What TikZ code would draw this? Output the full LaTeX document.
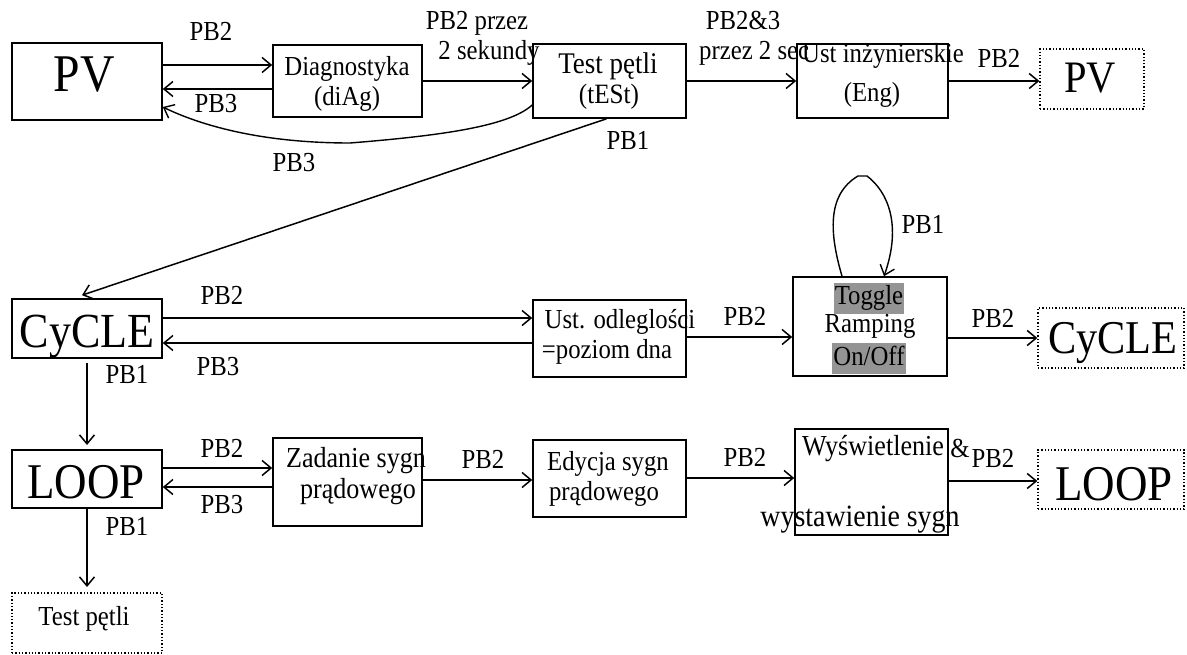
\documentclass[tikz,border=0pt]{standalone}
\usepackage{fontspec}
\setmainfont[FakeStretch=0.9]{Liberation Serif}
\usetikzlibrary{arrows.meta}
\begin{document}
\begin{tikzpicture}[x=1pt,y=-1pt,
  box/.style={draw, line width=1.6pt, inner sep=0pt},
  dotbox/.style={draw, dotted, line width=1.3pt, inner sep=0pt},
  arr/.style={line width=1.5pt, -{Straight Barb[length=9pt,width=15pt]}},
  curve/.style={line width=1.4pt},
  fs/.style={font=\fontsize{#1}{#1}\selectfont, inner sep=0pt, anchor=base},
  t/.style={fs=27.5},
  hl/.style={fs=27.5, fill=black!42, text height=21pt, text depth=8pt, inner xsep=1pt, inner ysep=1pt}
]
\useasboundingbox (0,0) rectangle (1187,655);

% ---- top row: boxes ----
\node[box, minimum width=150pt, minimum height=77pt] (pv)   at (87,81.5)   {};
\node[box, minimum width=149pt, minimum height=72pt] (diag) at (347.5,81)  {};
\node[box, minimum width=153pt, minimum height=74pt] (test) at (609.5,81)  {};
\node[box, minimum width=151pt, minimum height=74pt] (eng)  at (872.5,81)  {};
\node[dotbox, minimum width=104pt, minimum height=60pt] (pvd) at (1092,79) {};

\node[fs=53] (pvT)    at (84,92)   {PV};
\node[t]     (diagA)  at (347,76)  {Diagnostyka};
\node[t]     (diagB)  at (347,106) {(diAg)};
\node[fs=30] (testA)  at (608,73.5) {Test pętli};
\node[fs=28] (testB)  at (609,103.5) {(tESt)};
\node[t]     (engA)   at (883,63)  {Ust inżynierskie};
\node[t]     (engB)   at (872,102) {(Eng)};
\node[fs=45] (pvdT)   at (1090,93) {PV};

% ---- top row: connectors ----
\draw[arr] (pv.east |- 0,65) -- (diag.west |- 0,65);
\draw[arr] (diag.west |- 0,89) -- (pv.east |- 0,89);
\draw[arr] (diag.east |- 0,81) -- (test.west |- 0,81);
\draw[arr] (test.east |- 0,81) -- (eng.west |- 0,81);
\draw[arr] (eng.east |- 0,81) -- (pvd.west |- 0,81);
\draw[curve, -{Straight Barb[length=9pt,width=15pt]}]
  ([yshift=-24pt]test.west) .. controls (510,125) and (450,135) .. (350,143)
  .. controls (260,143) and (200,125) .. ([yshift=-25.5pt]pv.east);

\node[t] (l1) at (211,41)  {PB2};
\node[t] (l2) at (216,113) {PB3};
\node[t] (l3) at (477,30)  {PB2 przez};
\node[t] (l4) at (489,60)  {2 sekundy};
\node[t] (l5) at (743,30)  {PB2\&3};
\node[t, anchor=base west] (l6) at (699,60) {przez 2 sec};
\node[t] (l7) at (999,68)  {PB2};
\node[t] (l8) at (294,172) {PB3};
\node[t] (l9) at (628,150) {PB1};

% ---- middle row: boxes ----
\node[box, minimum width=150pt, minimum height=59pt] (cyc) at (87,328.5)  {};
\node[box, minimum width=153pt, minimum height=77pt] (odl) at (609.5,338.5) {};
\node[box, minimum width=154pt, minimum height=99pt] (tog) at (870,326.5)  {};
\node[dotbox, minimum width=146pt, minimum height=60pt] (cycd) at (1111,338) {};

\node[fs=49] (cycT)  at (87,347)   {CyCLE};
\node[t]     (odlA)  at (620,328)  {Ust. odleglości};
\node[t]     (odlB)  at (607,358)  {=poziom dna};
\node[hl]    (togA)  at (869,305)  {Toggle};
\node[t]     (togB)  at (870,333)  {Ramping};
\node[hl]    (togC)  at (869,365)  {On/Off};
\node[fs=47] (cycdT) at (1113,353) {CyCLE};

% ---- middle row: connectors ----
\draw[arr] ([xshift=-3pt]test.south) -- ([shift={(-5,-3)}]cyc.north);
\draw[arr] (cyc.east |- 0,318) -- (odl.west |- 0,318);
\draw[arr] (odl.west |- 0,343) -- (cyc.east |- 0,343);
\draw[arr] (odl.east |- 0,337) -- (tog.west |- 0,337);
\draw[arr] (tog.east |- 0,338) -- (cycd.west |- 0,338);
\draw[curve, -{Straight Barb[length=9pt,width=15pt]}]
  (tog.north -| 842,0) .. controls (830,235) and (826,195) .. (858,176)
  -- (867,176) .. controls (888,192) and (902,225) .. (tog.north -| 884,0);
\draw[arr] (cyc.south |- 0,363) -- (cyc.south |- 0,445);

\node[t] (m1) at (222,305) {PB2};
\node[t] (m2) at (218,375) {PB3};
\node[t] (m3) at (745,326) {PB2};
\node[t] (m4) at (993,327) {PB2};
\node[t] (m5) at (923,234) {PB1};
\node[t] (m6) at (127,383) {PB1};

% ---- bottom row: boxes ----
\node[box, minimum width=150pt, minimum height=58pt]  (loop) at (87,479)    {};
\node[box, minimum width=149pt, minimum height=88pt]  (zad)  at (347.5,482) {};
\node[box, minimum width=153pt, minimum height=77pt]  (edy)  at (609.5,478.5) {};
\node[box, minimum width=153pt, minimum height=106pt] (wys)  at (871.5,482) {};
\node[dotbox, minimum width=146pt, minimum height=59pt] (loopd) at (1111,479.5) {};
\node[dotbox, minimum width=150pt, minimum height=60pt] (testd) at (87,623) {};

\node[fs=50] (loopT)  at (86,498)   {LOOP};
\node[fs=29] (zadA)   at (356,467)  {Zadanie sygn};
\node[fs=29] (zadB)   at (358,498)  {prądowego};
\node[t]     (edyA)   at (608,470)  {Edycja sygn};
\node[t]     (edyB)   at (604,500)  {prądowego};
\node[fs=29] (wysA)   at (873,455)  {Wyświetlenie};
\node[fs=31] (wysB)   at (860,526)  {wystawienie sygn};
\node[fs=50] (loopdT) at (1114,500) {LOOP};
\node[t]     (testdT) at (84,625)   {Test pętli};

% ---- bottom row: connectors ----
\draw[arr] (loop.east |- 0,468) -- (zad.west |- 0,468);
\draw[arr] (zad.west |- 0,487) -- (loop.east |- 0,487);
\draw[arr] (zad.east |- 0,480) -- (edy.west |- 0,480);
\draw[arr] (edy.east |- 0,478) -- (wys.west |- 0,478);
\draw[arr] (wys.east |- 0,481) -- (loopd.west |- 0,481);
\draw[arr] (loop.south) -- (loop.south |- 0,587);

\node[t] (b1) at (222,457) {PB2};
\node[t] (b2) at (222,513) {PB3};
\node[t] (b3) at (483,468) {PB2};
\node[t] (b4) at (745,466) {PB2};
\node[t] (b5) at (960,457) {\&};
\node[t] (b6) at (993,467) {PB2};
\node[t] (b7) at (127,535) {PB1};
\end{tikzpicture}
\end{document}
